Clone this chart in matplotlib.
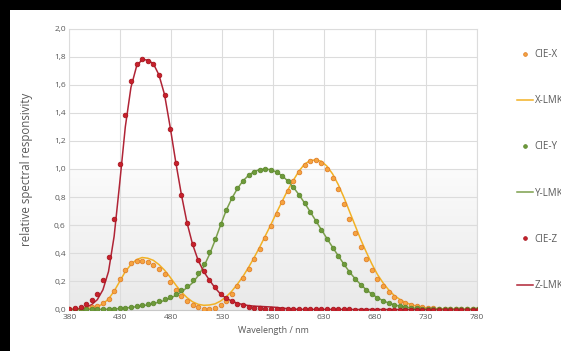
import numpy as np
import matplotlib.pyplot as plt
from matplotlib.patches import Rectangle
from matplotlib.colors import LinearSegmentedColormap
from matplotlib.ticker import FuncFormatter

plt.rcParams['font.family'] = ['Open Sans', 'DejaVu Sans']

# sample positions as they sit on the chart's axis (81 samples, 5 nm table,
# drawn ~5.5 axis units apart in the source chart)
wl = np.arange(81) * 5.5 + 380

# CIE 1931 2 deg colour matching functions (dots)
cie_x = [0.0014, 0.0022, 0.0042, 0.0077, 0.0143, 0.0232, 0.0435, 0.0776, 0.1344, 0.2148,
         0.2839, 0.3285, 0.3483, 0.3481, 0.3362, 0.3187, 0.2908, 0.2511, 0.1954, 0.1421,
         0.0956, 0.0580, 0.0320, 0.0147, 0.0049, 0.0024, 0.0093, 0.0291, 0.0633, 0.1096,
         0.1655, 0.2257, 0.2904, 0.3597, 0.4334, 0.5121, 0.5945, 0.6784, 0.7621, 0.8425,
         0.9163, 0.9786, 1.0263, 1.0567, 1.0622, 1.0456, 1.0026, 0.9384, 0.8544, 0.7514,
         0.6424, 0.5419, 0.4479, 0.3608, 0.2835, 0.2187, 0.1649, 0.1212, 0.0874, 0.0636,
         0.0468, 0.0329, 0.0227, 0.0158, 0.0114, 0.0081, 0.0058, 0.0041, 0.0029, 0.0020,
         0.0014, 0.0010, 0.0007, 0.0005, 0.0003, 0.0002, 0.0002, 0.0001, 0.0001, 0.0001,
         0.0000]
cie_y = [0.0000, 0.0001, 0.0001, 0.0002, 0.0004, 0.0006, 0.0012, 0.0022, 0.0040, 0.0073,
         0.0116, 0.0168, 0.0230, 0.0298, 0.0380, 0.0480, 0.0600, 0.0739, 0.0910, 0.1126,
         0.1390, 0.1693, 0.2080, 0.2586, 0.3230, 0.4073, 0.5030, 0.6082, 0.7100, 0.7932,
         0.8620, 0.9149, 0.9540, 0.9803, 0.9950, 1.0000, 0.9950, 0.9786, 0.9520, 0.9154,
         0.8700, 0.8163, 0.7570, 0.6949, 0.6310, 0.5668, 0.5030, 0.4412, 0.3810, 0.3210,
         0.2650, 0.2170, 0.1750, 0.1382, 0.1070, 0.0816, 0.0610, 0.0446, 0.0320, 0.0232,
         0.0170, 0.0119, 0.0082, 0.0057, 0.0041, 0.0029, 0.0021, 0.0015, 0.0010, 0.0007,
         0.0005, 0.0004, 0.0002, 0.0002, 0.0001, 0.0001, 0.0001, 0.0000, 0.0000, 0.0000,
         0.0000]
cie_z = [0.0065, 0.0106, 0.0201, 0.0362, 0.0679, 0.1102, 0.2074, 0.3713, 0.6456, 1.0391,
         1.3856, 1.6230, 1.7471, 1.7826, 1.7721, 1.7441, 1.6692, 1.5281, 1.2876, 1.0419,
         0.8130, 0.6162, 0.4652, 0.3533, 0.2720, 0.2123, 0.1582, 0.1117, 0.0783, 0.0573,
         0.0422, 0.0298, 0.0203, 0.0134, 0.0088, 0.0058, 0.0039, 0.0028, 0.0021, 0.0018,
         0.0017, 0.0014, 0.0011, 0.0010, 0.0008, 0.0006, 0.0003, 0.0002, 0.0002, 0.0001,
         0.0001, 0.0000, 0.0000, 0.0000, 0.0000, 0.0000, 0.0000, 0.0000, 0.0000, 0.0000,
         0.0000, 0.0000, 0.0000, 0.0000, 0.0000, 0.0000, 0.0000, 0.0000, 0.0000, 0.0000,
         0.0000, 0.0000, 0.0000, 0.0000, 0.0000, 0.0000, 0.0000, 0.0000, 0.0000, 0.0000,
         0.0000]

lmk_x = [0.000, 0.000, 0.002, 0.005, 0.010, 0.020, 0.040, 0.075, 0.130, 0.200,
         0.270, 0.320, 0.355, 0.370, 0.365, 0.350, 0.320, 0.280, 0.230, 0.175,
         0.125, 0.085, 0.055, 0.037, 0.030, 0.032, 0.040, 0.060, 0.090, 0.130,
         0.180, 0.235, 0.300, 0.370, 0.445, 0.525, 0.605, 0.690, 0.770, 0.850,
         0.920, 0.985, 1.035, 1.060, 1.065, 1.055, 1.020, 0.965, 0.890, 0.800,
         0.700, 0.600, 0.500, 0.410, 0.325, 0.250, 0.190, 0.140, 0.100, 0.072,
         0.050, 0.035, 0.024, 0.016, 0.011, 0.008, 0.005, 0.004, 0.003, 0.002,
         0.001, 0.001, 0.000, 0.000, 0.000, 0.000, 0.000, 0.000, 0.000, 0.000,
         0.000]
lmk_y = [0.000, 0.000, 0.000, 0.000, 0.000, 0.001, 0.001, 0.002, 0.004, 0.006,
         0.010, 0.015, 0.020, 0.026, 0.033, 0.042, 0.052, 0.064, 0.080, 0.100,
         0.125, 0.155, 0.190, 0.240, 0.305, 0.390, 0.490, 0.600, 0.705, 0.790,
         0.860, 0.915, 0.955, 0.982, 0.996, 1.000, 0.995, 0.978, 0.952, 0.915,
         0.870, 0.817, 0.758, 0.696, 0.632, 0.568, 0.505, 0.443, 0.383, 0.324,
         0.268, 0.220, 0.178, 0.141, 0.110, 0.084, 0.063, 0.046, 0.033, 0.024,
         0.017, 0.012, 0.008, 0.006, 0.004, 0.003, 0.002, 0.001, 0.001, 0.000,
         0.000, 0.000, 0.000, 0.000, 0.000, 0.000, 0.000, 0.000, 0.000, 0.000,
         0.000]
lmk_z = [0.000, 0.002, 0.006, 0.015, 0.035, 0.070, 0.140, 0.270, 0.520, 0.900,
         1.300, 1.580, 1.730, 1.780, 1.775, 1.750, 1.670, 1.530, 1.300, 1.050,
         0.820, 0.620, 0.465, 0.350, 0.270, 0.210, 0.155, 0.110, 0.080, 0.060,
         0.045, 0.035, 0.028, 0.024, 0.022, 0.020, 0.018, 0.015, 0.010, 0.006,
         0.003, 0.001, 0.000, 0.000, 0.000, 0.000, 0.000, 0.000, 0.000, 0.000,
         0.000, 0.000, 0.000, 0.000, 0.000, 0.000, 0.000, 0.000, 0.000, 0.000,
         0.000, 0.000, 0.000, 0.000, 0.000, 0.000, 0.000, 0.000, 0.000, 0.000,
         0.000, 0.000, 0.000, 0.000, 0.000, 0.000, 0.000, 0.000, 0.000, 0.000,
         0.000]

xticks = list(range(380, 781, 50))
yticks = [0.0, 0.2, 0.4, 0.6, 0.8, 1.0, 1.2, 1.4, 1.6, 1.8, 2.0]

txt = '#595959'
grid_c = '#dcdcdc'

fig = plt.figure(figsize=(5.61, 3.51), dpi=100)
fig.patch.set_facecolor('white')
# black margins of the screenshot
fig.patches.append(Rectangle((0, 1 - 10/351), 1, 10/351, transform=fig.transFigure,
                             facecolor='black', edgecolor='none', zorder=10))
fig.patches.append(Rectangle((0, 0), 10/561, 1, transform=fig.transFigure,
                             facecolor='black', edgecolor='none', zorder=10))

ax = fig.add_axes([69.3/561, 1 - 309.5/351, (476.7-69.3)/561, (309.5-28.5)/351])

# light gradient in the lower half of the plot area
grad = np.linspace(0, 1, 100).reshape(-1, 1)
ax.imshow(grad, extent=(380, 780, 0, 1.0), origin='lower', aspect='auto',
          cmap=LinearSegmentedColormap.from_list('g', ['#e9e9e9', '#fbfbfb']),
          zorder=0)

ax.set_xlim(380, 780)
ax.set_ylim(0, 2.0)
ax.set_xticks(xticks)
ax.set_yticks(yticks)
ax.yaxis.set_major_formatter(FuncFormatter(lambda v, p: f'{v:.1f}'.replace('.', ',')))
ax.grid(True, color=grid_c, linewidth=0.8, zorder=1)
ax.set_axisbelow(True)
for s in ax.spines.values():
    s.set_color(grid_c)
    s.set_linewidth(0.8)
ax.spines['bottom'].set_color('#c8c8c8')
ax.tick_params(length=0, labelsize=6, labelcolor=txt)
ax.tick_params(axis='x', pad=3.5)
ax.tick_params(axis='y', pad=2.5)

ms = 3.3
ax.plot(wl, lmk_x, color='#f2b124', lw=1.1, zorder=3, label='X-LMK')
ax.plot(wl, lmk_y, color='#7c9f4c', lw=1.1, zorder=3, label='Y-LMK')
ax.plot(wl, lmk_z, color='#b02436', lw=1.1, zorder=3, label='Z-LMK')
ax.plot(wl, cie_x, 'o', ms=ms, mfc='#f6a440', mec='#e0802a', mew=0.6, zorder=4, label='CIE-X')
ax.plot(wl, cie_y, 'o', ms=ms, mfc='#6e9a3a', mec='#5e8a30', mew=0.6, zorder=4, label='CIE-Y')
ax.plot(wl, cie_z, 'o', ms=ms, mfc='#c8202c', mec='#a81820', mew=0.6, zorder=5, label='CIE-Z')

ax.set_xlabel('Wavelength / nm', fontsize=6.5, color=txt, labelpad=3)
ax.set_ylabel('relative spectral responsivity', fontsize=8.3, color=txt, labelpad=15)

h, l = ax.get_legend_handles_labels()
order = ['CIE-X', 'X-LMK', 'CIE-Y', 'Y-LMK', 'CIE-Z', 'Z-LMK']
hs = [h[l.index(o)] for o in order]
leg = ax.legend(hs, order, loc='upper left', bbox_to_anchor=(517/561, 1 - 49/351),
                bbox_transform=fig.transFigure, frameon=False, fontsize=7,
                labelspacing=3.62, handlelength=1.6, handletextpad=0.2,
                borderpad=0, borderaxespad=0, numpoints=1, markerscale=0.8)
for t in leg.get_texts():
    t.set_color(txt)

plt.savefig('out.png', dpi=100)
